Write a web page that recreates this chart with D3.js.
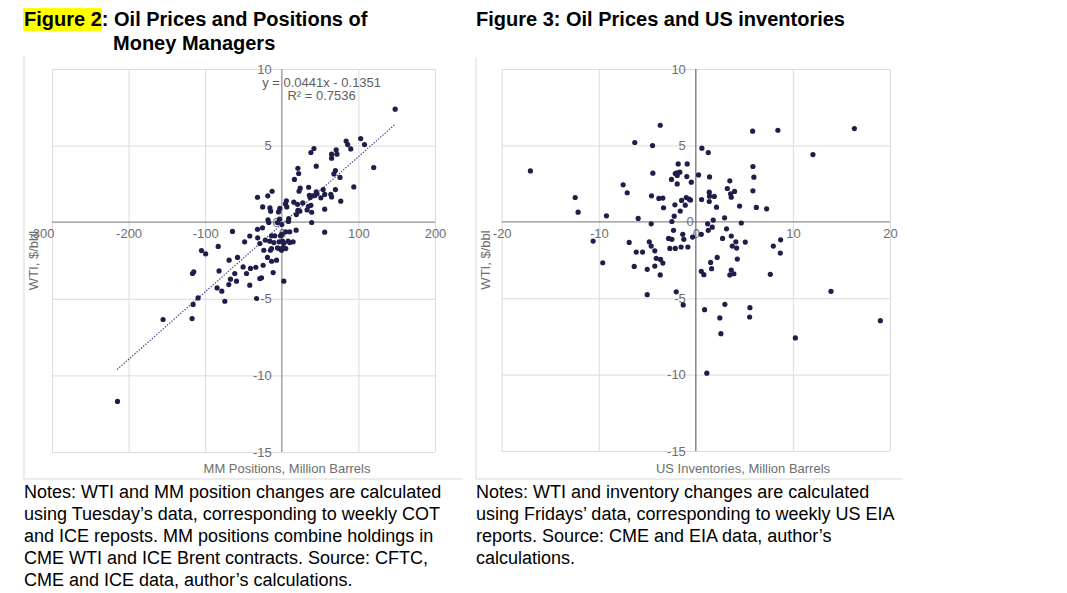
<!DOCTYPE html>
<html>
<head>
<meta charset="utf-8">
<script src="https://cdn.jsdelivr.net/npm/d3@7"></script>
<style>
  body { margin: 0; background: #fff; }
  text { font-family: "Liberation Sans", Arial, sans-serif; }
</style>
</head>
<body>
<div id="chart"></div>
<script>
// Figure 2: weekly change in MM positions (million bbl) vs WTI change ($/bbl)
var fig2Points = [
  [148,7.38],[103,5.46],[108,5.07],[120,3.57],[84,5.3],[86,5.07],[90,4.78],[94,2.3],
  [71,4.72],[72,4.44],[65,4.44],[65,4.18],[70,3.37],[68,3.15],[76,2.92],[77,1.37],
  [70,2.13],[64,1.81],[65,1.65],[56,1.81],[54,2.13],[56,0.85],[56,-0.65],
  [42,4.81],[38,4.55],[45,3.66],[35,2.28],[45,1.98],[46,1.85],[43,1.74],[51,1.59],
  [37,1.61],[40,1.72],[36,1.76],[21,3.52],[22,3.18],[16.5,2.79],[24,2.22],[22.5,2.02],
  [15.7,1.31],[20.5,1.17],[27.4,1.26],[38,1.1],[39,0.65],[33,0.8],[21,0.78],[19,0.5],
  [39,-0.02],[6,1.4],[4.8,1.19],[6.5,1.0],[-2.6,0.9],[-3,0.2],[-12.7,2.02],[-18.3,1.72],
  [-31.7,1.63],[-25,1.0],[-15.5,0.93],[-14.5,0.72],[-4.3,0.67],[9,0.24],[8.7,0.05],
  [-18,0.15],[-17,-0.02],[23.5,0.72],[0,-0.15],[-5.6,-0.02],[34.8,1.04],
  [18.7,-0.52],[10.4,-0.63],[5.2,-0.63],[0,-0.8],[-1.7,-0.89],[-9.1,-0.89],[-13.4,-0.89],
  [-25.2,-0.37],[-31.7,-0.46],[-64.4,-0.6],[-41.8,-0.9],[-48.5,-1.28],[-31.5,-1.02],
  [-28.7,-1.39],[-21.5,-1.17],[-15.7,-1.24],[-10.4,-1.33],[0.9,-1.24],[2.6,-1.37],
  [-3.5,-1.28],[8.2,-1.24],[10.4,-1.33],[14.8,-1.28],[-3.5,-1.72],[-0.4,-1.83],
  [5.2,-1.72],[-5.6,-1.68],[1.7,-1.65],[-13.4,-1.72],[-14.8,-1.83],[-23.5,-1.83],
  [-104.8,-1.85],[-99.4,-2.07],[-83,-1.58],[-18.7,-2.3],[-13.4,-2.55],[-6.9,-2.48],
  [-24.4,-2.81],[-57.8,-2.3],[-68.8,-2.48],[-50.5,-2.92],[-40.9,-3.02],[-33.9,-2.94],
  [-61.4,-3.35],[-46.1,-3.35],[-81.9,-3.18],[-116.6,-3.35],[-114.9,-3.24],[-11.3,-3.29],
  [-26.5,-3.63],[-28.7,-3.68],[-67,-3.72],[-59.1,-3.85],[-69.2,-4.07],[-41.8,-4.11],
  [2.6,-3.85],[-84.5,-4.29],[-78.3,-4.5],[-74.4,-5.16],[-33,-4.98],[-109.3,-4.94],
  [-115.8,-5.37],[-155,-6.35],[-117.1,-6.29],[-214.5,-11.7]
];

// Figure 3: weekly change in US inventories (million bbl) vs WTI change ($/bbl)
var fig3Points = [
  [-3.67,6.32],[-6.29,5.19],[-4.46,4.99],[0.62,4.82],[1.28,4.53],[-17.04,3.33],[-1.82,3.79],
  [-0.89,3.79],[-2.12,3.16],[-1.92,3.03],[-1.65,3.25],[-1.96,3.2],[-0.93,2.96],[0.28,3.07],
  [1.41,2.94],[-4.43,3.18],[-2.51,2.77],[-1.92,2.48],[-0.47,2.59],[3.5,2.68],[-7.49,2.42],
  [-7.07,1.9],[-12.43,1.59],[-12.13,0.63],[-9.21,0.39],[-4.57,1.7],[-3.81,1.53],[-3.4,1.55],
  [-3.33,0.92],[-2.16,1.11],[-1.47,1.4],[-1.09,1.09],[-0.99,1.59],[-0.68,1.48],[-0.55,1.42],
  [-1.61,0.7],[-2.23,0.37],[-2.47,0.02],[-5.94,0.22],[-4.6,-0.13],[0.59,1.46],[1.38,1.94],
  [1.41,1.68],[1.38,1.33],[1.9,1.66],[2.13,0.96],[3.24,2.18],[3.58,1.83],[3.65,1.61],
  [3.99,1.99],[2.96,0.26],[4.5,1.03],[1.79,0.11],[1.21,-0.13],
  [5.85,5.93],[8.45,5.99],[16.33,6.1],[12.06,4.4],[5.88,3.62],[5.98,2.92],[5.88,2.03],
  [6.23,0.94],[7.29,0.85],[4.68,-0.08],[1.69,-0.35],[1.28,-0.56],[0.56,-0.82],[-0.34,-1.0],
  [3.16,-0.46],[2.75,-1.09],[3.65,-0.93],[4.12,-1.31],[3.75,-1.59],[4.2,-1.72],[5.09,-1.33],
  [8.73,-1.18],[7.98,-1.59],[8.7,-2.05],[2.2,-2.33],[4.27,-2.44],[1.52,-2.66],[1.62,-3.07],
  [0.56,-3.24],[0.82,-3.46],[3.65,-3.16],[3.5,-3.48],[3.92,-3.4],[7.67,-3.44],[13.92,-4.55],
  [2.99,-5.4],[0.9,-5.75],[5.57,-5.62],[5.54,-6.23],[2.47,-6.29],[2.58,-7.32],[10.25,-7.6],
  [19.01,-6.47],[-1.3,-5.44],[-1.35,-0.82],[-0.82,-1.65],[-1.24,-1.15],
  [1.13,-9.91],[-5.01,-4.77],[-2.02,-4.58],[-9.59,-2.68],[-6.35,-2.92],[-5.01,-3.11],
  [-4.23,-2.9],[-3.67,-3.48],[-4.08,-2.39],[-3.64,-2.46],[-3.4,-2.7],[-6.14,-1.98],
  [-5.49,-1.98],[-4.23,-1.9],[-10.58,-1.26],[-6.87,-1.35],[-4.8,-1.31],[-4.6,-1.59],
  [-2.3,-0.56],[-2.81,-1.09],[-2.47,-1.15],[-2.68,-1.74],[-2.12,-1.74],[-1.52,-1.65]
];

var fig2XTicks = [-300, -200, -100, 0, 100, 200];
var fig3XTicks = [-20, -10, 0, 10, 20];
var wtiTicks = [-15, -10, -5, 0, 5, 10];

// linear trend shown on figure 2
var trendSlope = 0.0441;
var trendIntercept = -0.1351;
var trendXs = [-215, 148];
var trendLabels = ["y = 0.0441x - 0.1351", "R² = 0.7536"];

var notesFig2 = [
  "Notes: WTI and MM position changes are calculated",
  "using Tuesday’s data, corresponding to weekly COT",
  "and ICE reposts. MM positions combine holdings in",
  "CME WTI and ICE Brent contracts. Source: CFTC,",
  "CME and ICE data, author’s calculations."
];
var notesFig3 = [
  "Notes: WTI and inventory changes are calculated",
  "using Fridays’ data, corresponding to weekly US EIA",
  "reports. Source: CME and EIA data, author’s",
  "calculations."
];

var svgWidth = 1067;
var svgHeight = 593;
var dotColor = "#1e1e4b";
var labelColor = "#6e6e6e";

var svg = d3.select("#chart")
  .append("svg")
  .attr("width", svgWidth)
  .attr("height", svgHeight);

function drawPanel(p) {
  var x = d3.scaleLinear().domain(d3.extent(p.xTicks)).range(p.xRange);
  var y = d3.scaleLinear().domain(d3.extent(wtiTicks)).range(p.yRange);
  var g = svg.append("g");

  // outer frame (left and bottom edges only)
  g.append("line")
    .attr("x1", p.frame[0]).attr("x2", p.frame[0])
    .attr("y1", 57).attr("y2", 479)
    .attr("stroke", "#d9d9d9");
  g.append("line")
    .attr("x1", p.frame[0]).attr("x2", p.frame[1])
    .attr("y1", 479).attr("y2", 479)
    .attr("stroke", "#d9d9d9");

  // gridlines
  var gridX = g.append("g")
    .attr("transform", `translate(0, ${y(10)})`)
    .call(d3.axisBottom(x).tickValues(p.xTicks.filter(d => d !== 0))
      .tickSize(y(-15) - y(10)).tickFormat(""));
  var gridY = g.append("g")
    .attr("transform", `translate(${x.range()[0]}, 0)`)
    .call(d3.axisRight(y).tickValues(wtiTicks.filter(d => d !== 0))
      .tickSize(x.range()[1] - x.range()[0]).tickFormat(""));
  [gridX, gridY].forEach(function(a) {
    a.select(".domain").remove();
    a.selectAll("line").attr("stroke", "#dcdcdc");
  });

  // zero axes
  g.append("line")
    .attr("x1", x.range()[0]).attr("x2", x.range()[1])
    .attr("y1", y(0)).attr("y2", y(0))
    .attr("stroke", "#8f8f8f").attr("stroke-width", 1.2);
  g.append("line")
    .attr("x1", x(0)).attr("x2", x(0))
    .attr("y1", y(10)).attr("y2", y(-15))
    .attr("stroke", p.vAxisColor).attr("stroke-width", p.vAxisWidth);

  // tick labels (plain hyphen for negatives, as in the original)
  var plain = d => String(d);
  var xAxis = g.append("g")
    .attr("transform", `translate(0, ${y(0)})`)
    .call(d3.axisBottom(x).tickValues(p.xTicks).tickFormat(plain).tickSize(0).tickPadding(7));
  var yAxis = g.append("g")
    .attr("transform", `translate(${x(0)}, 0)`)
    .call(d3.axisLeft(y).tickValues(wtiTicks).tickFormat(plain).tickSize(0).tickPadding(10));
  [xAxis, yAxis].forEach(function(a) {
    a.select(".domain").remove();
    a.attr("font-size", 13).attr("font-family", null);
    a.selectAll("text").attr("fill", labelColor);
  });
  yAxis.selectAll("text").filter(d => d === 0).attr("dx", 8);
  xAxis.selectAll("text").filter(d => d === p.xTicks[0]).attr("dx", p.firstLabelShift);

  // trendline
  if (p.trend) {
    g.append("path")
      .datum(trendXs)
      .attr("d", d3.line().x(d => x(d)).y(d => y(trendSlope * d + trendIntercept)))
      .attr("fill", "none")
      .attr("stroke", "#3b3b80")
      .attr("stroke-width", 1.2)
      .attr("stroke-dasharray", "1.3,1.6");
  }

  // points
  g.append("g")
    .selectAll("circle")
    .data(p.points)
    .enter()
    .append("circle")
    .attr("cx", d => x(d[0]))
    .attr("cy", d => y(d[1]))
    .attr("r", 2.6)
    .attr("fill", dotColor);

  if (p.trend) {
    g.selectAll(".eq")
      .data(trendLabels)
      .enter()
      .append("text")
      .attr("x", x(52))
      .attr("y", (d, i) => y(8.8) + i * 13)
      .attr("text-anchor", "middle")
      .attr("font-size", 13)
      .attr("fill", "#5e5e5e")
      .text(d => d);
  }

  // axis titles
  g.append("text")
    .attr("transform", `translate(${p.frame[0] + 14}, ${y(-2.5)}) rotate(-90)`)
    .attr("text-anchor", "middle")
    .attr("font-size", 13)
    .attr("fill", labelColor)
    .text("WTI, $/bbl");
  g.append("text")
    .attr("x", p.xTitleX)
    .attr("y", 473)
    .attr("text-anchor", "middle")
    .attr("font-size", 13)
    .attr("fill", labelColor)
    .text(p.xTitle);

  // notes under the panel
  g.selectAll(".note")
    .data(p.notes)
    .enter()
    .append("text")
    .attr("x", p.frame[0])
    .attr("y", (d, i) => 498 + i * 22)
    .attr("font-size", 18)
    .attr("fill", "#000")
    .text(d => d);
}

drawPanel({
  points: fig2Points, xTicks: fig2XTicks,
  xRange: [52, 435], yRange: [452, 69], frame: [24, 463],
  vAxisColor: "#a8a8a8", vAxisWidth: 1.6, firstLabelShift: -11,
  trend: true, xTitle: "MM Positions, Million Barrels", xTitleX: 287,
  notes: notesFig2
});

drawPanel({
  points: fig3Points, xTicks: fig3XTicks,
  xRange: [501.7, 890], yRange: [451, 69], frame: [476, 903],
  vAxisColor: "#5a5a5a", vAxisWidth: 1.1, firstLabelShift: 0,
  trend: false, xTitle: "US Inventories, Million Barrels", xTitleX: 743,
  notes: notesFig3
});

// titles
var hl = svg.append("rect")
  .attr("x", 23).attr("y", 8)
  .attr("height", 23)
  .attr("fill", "#ffff00");
var t1 = svg.append("text")
  .attr("x", 24).attr("y", 26)
  .attr("font-size", 20).attr("font-weight", "bold");
t1.append("tspan").attr("class", "fig").text("Figure 2");
t1.append("tspan").text(": Oil Prices and Positions of");
hl.attr("width", t1.select(".fig").node().getComputedTextLength() + 1);

svg.append("text")
  .attr("x", 113).attr("y", 50)
  .attr("font-size", 20).attr("font-weight", "bold")
  .text("Money Managers");

svg.append("text")
  .attr("x", 476).attr("y", 26)
  .attr("font-size", 20).attr("font-weight", "bold")
  .text("Figure 3: Oil Prices and US inventories");
</script>
</body>
</html>
